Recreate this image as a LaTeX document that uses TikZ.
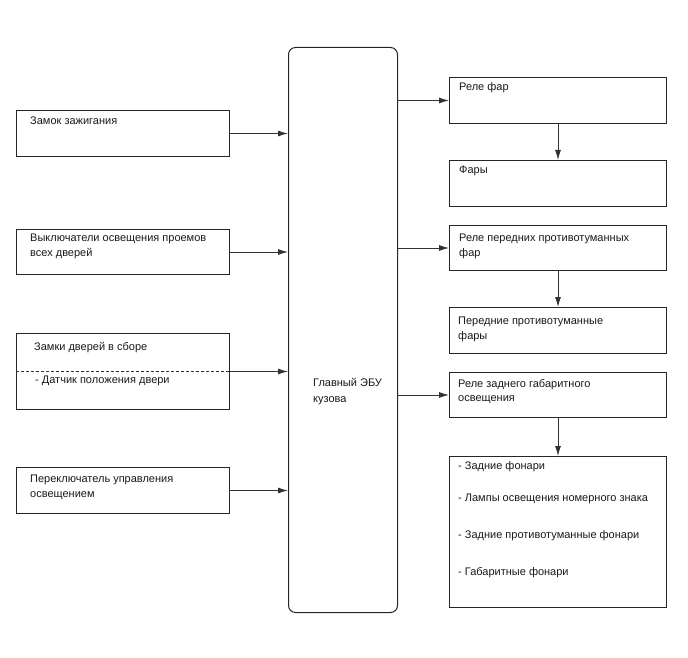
\documentclass[tikz,border=0pt]{standalone}
\usepackage{fontspec}
\setmainfont{Liberation Sans}
\usetikzlibrary{arrows.meta}
\begin{document}
\begin{tikzpicture}[x=1pt,y=-1pt,
  box/.style={draw=black!85,line width=1pt,rectangle,inner sep=0pt,anchor=north west},
  lbl/.style={anchor=base west,inner sep=0pt,font=\fontsize{11}{15}\selectfont,text=black!90},
  conn/.style={draw=black!80,line width=0.9pt,-{Latex[length=10pt,width=6pt]}}]
\useasboundingbox (0,0) rectangle (688,658);
% left boxes
\node[box,minimum width=213pt,minimum height=46pt] (b1) at (16,110) {};
\node[box,minimum width=213pt,minimum height=45pt] (b2) at (16,229) {};
\node[box,minimum width=213pt,minimum height=76pt] (b3) at (16,333) {};
\node[box,minimum width=213pt,minimum height=46pt] (b4) at (16,467) {};
% central ECU
\node[box,rounded corners=7pt,minimum width=109pt,minimum height=565pt] (ecu) at (288,47) {};
% right boxes
\node[box,minimum width=217pt,minimum height=46pt] (r1) at (449,77) {};
\node[box,minimum width=217pt,minimum height=46pt] (r2) at (449,160) {};
\node[box,minimum width=217pt,minimum height=45pt] (r3) at (449,225) {};
\node[box,minimum width=217pt,minimum height=46pt] (r4) at (449,307) {};
\node[box,minimum width=217pt,minimum height=45pt] (r5) at (449,372) {};
\node[box,minimum width=217pt,minimum height=151pt] (r6) at (449,456) {};
% dashed divider in b3
\draw[black!80,line width=0.8pt,dash pattern=on 3pt off 2pt] (b3.west) -- (b3.east);
% texts
\node[lbl] (t1) at (30,125) {Замок зажигания};
\node[lbl] (t2a) at (30,241) {Выключатели освещения проемов};
\node[lbl] (t2b) at (30,256) {всех дверей};
\node[lbl] (t3a) at (34,350) {Замки дверей в сборе};
\node[lbl] (t3b) at (35,383) {- Датчик положения двери};
\node[lbl] (t4a) at (30,482) {Переключатель управления};
\node[lbl] (t4b) at (30,497) {освещением};
\node[lbl] (tea) at (313,386) {Главный ЭБУ};
\node[lbl] (teb) at (313,402) {кузова};
\node[lbl] (tr1) at (459,91) {Реле фар};
\node[lbl] (tr2) at (459,174) {Фары};
\node[lbl] (tr3a) at (459,241) {Реле передних противотуманных};
\node[lbl] (tr3b) at (459,256) {фар};
\node[lbl] (tr4a) at (458,324) {Передние противотуманные};
\node[lbl] (tr4b) at (458,339) {фары};
\node[lbl] (tr5a) at (458,387) {Реле заднего габаритного};
\node[lbl] (tr5b) at (458,401) {освещения};
\node[lbl] (tr6a) at (458,469) {- Задние фонари};
\node[lbl] (tr6b) at (458,501) {- Лампы освещения номерного знака};
\node[lbl] (tr6c) at (458,538) {- Задние противотуманные фонари};
\node[lbl] (tr6d) at (458,575) {- Габаритные фонари};
% connectors
\draw[conn] (b1.east) -- (b1.east -| ecu.west);
\draw[conn] (b2.east) -- (b2.east -| ecu.west);
\draw[conn] (b3.east) -- (b3.east -| ecu.west);
\draw[conn] (b4.east) -- (b4.east -| ecu.west);
\draw[conn] (r1.west -| ecu.east) -- (r1.west);
\draw[conn] (r3.west -| ecu.east) -- (r3.west);
\draw[conn] (r5.west -| ecu.east) -- (r5.west);
\draw[conn] (r1.south) -- (r2.north);
\draw[conn] (r3.south) -- (r4.north);
\draw[conn] (r5.south) -- (r6.north);
\end{tikzpicture}
\end{document}
